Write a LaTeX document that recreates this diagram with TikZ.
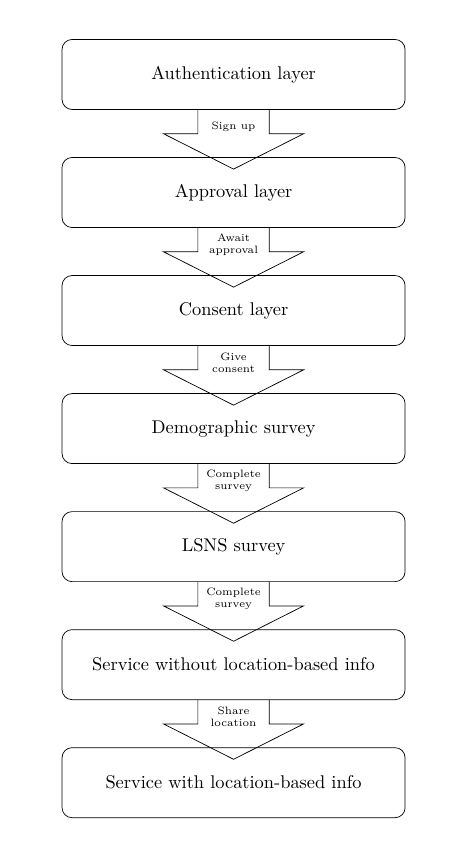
\documentclass[tikz,border=0pt]{standalone}
\usetikzlibrary{positioning,calc}

\tikzset{
  layer/.style={draw, rounded corners=5.6pt, minimum width=192.1pt, minimum height=39.2pt, font=\fontsize{10.3}{12}\selectfont},
  steplabel/.style={font=\fontsize{6}{7}\selectfont, align=center, inner sep=0pt},
}

% down arrow from one layer to the next, with its label
\newcommand{\stagearrow}[3]{%
  \draw ($(#1.south)+(-20pt,0)$) -- ++(0,-13.4pt) -- ++(-19.2pt,0)
    -- ($(#2.north)+(0,-6.7pt)$) -- ($(#1.south)+(39.2pt,-13.4pt)$)
    -- ++(-19.2pt,0) -- ($(#1.south)+(20pt,0)$);
  \node[steplabel, below=9.5pt of #1.south, anchor=center] (#1-lbl) {#3};
}

\begin{document}
\begin{tikzpicture}
  \useasboundingbox (0,0) rectangle (261.5pt,-481.6pt);

  % layers
  \node[layer] (auth) at (130.8pt,-41.7pt) {Authentication layer};
  \node[layer, below=26.5pt of auth] (appr) {Approval layer};
  \node[layer, below=26.5pt of appr] (cons) {Consent layer};
  \node[layer, below=26.5pt of cons] (demo) {Demographic survey};
  \node[layer, below=26.5pt of demo] (lsns) {LSNS survey};
  \node[layer, below=26.5pt of lsns] (noloc) {Service without location-based info};
  \node[layer, below=26.5pt of noloc] (loc) {Service with location-based info};

  % arrows
  \stagearrow{auth}{appr}{Sign up}
  \stagearrow{appr}{cons}{Await\\approval}
  \stagearrow{cons}{demo}{Give\\consent}
  \stagearrow{demo}{lsns}{Complete\\survey}
  \stagearrow{lsns}{noloc}{Complete\\survey}
  \stagearrow{noloc}{loc}{Share\\location}
\end{tikzpicture}
\end{document}
